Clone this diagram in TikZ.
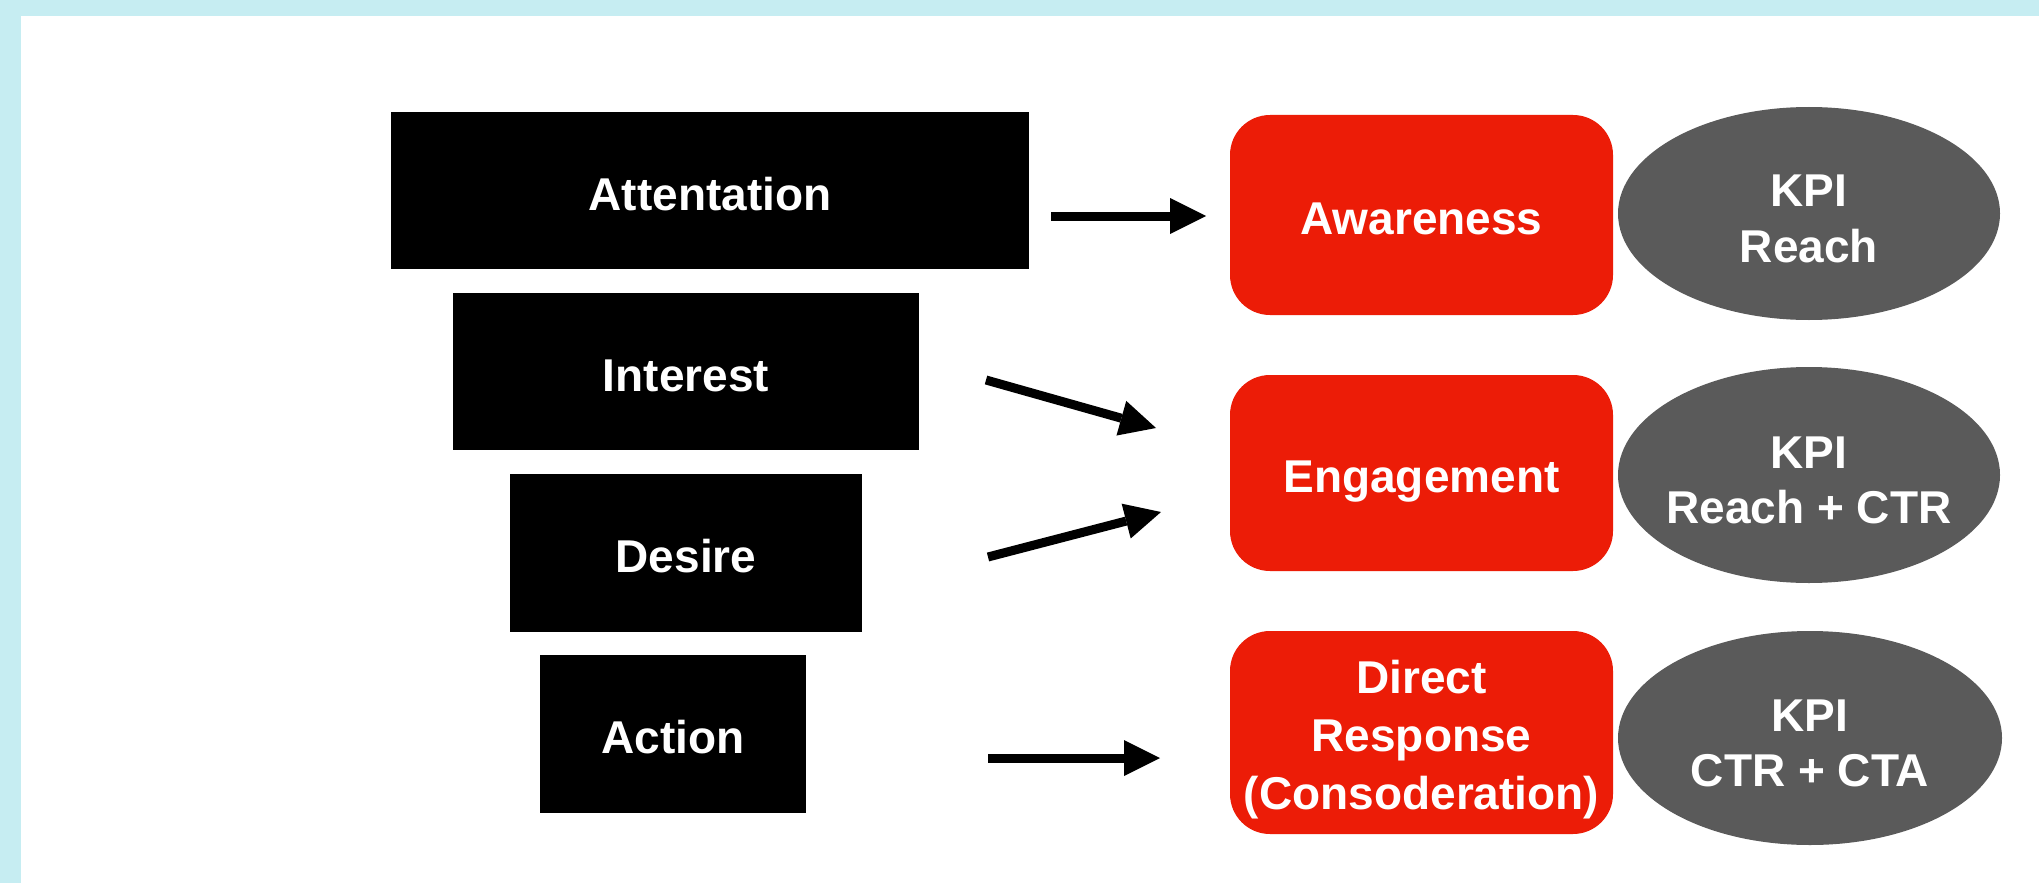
\documentclass[tikz,border=0pt]{standalone}
\usepackage{fontspec}
\setmainfont{Liberation Sans}
\usetikzlibrary{shapes.geometric,arrows.meta}
\definecolor{framecyan}{HTML}{C6EDF2}
\definecolor{stagered}{HTML}{EC1C07}
\definecolor{kpigray}{HTML}{5A5A5A}
% centred stack of lines, lowered by #1 without changing the box it reports
\newcommand{\linestack}[2]{\raisebox{#1}[\height][\depth]{\begin{tabular}{@{}c@{}}#2\end{tabular}}}
% narrow box for the ellipses, so each ellipse keeps its set size
\newcommand{\kpilines}[1]{\makebox[60pt]{\linestack{-5pt}{#1}}}

\begin{document}
\begin{tikzpicture}[x=0.5pt,y=-0.5pt,
  boxfont/.style={font=\bfseries\fontsize{23}{28}\selectfont, text=white},
  oneline/.style={text height=19.5pt, text depth=0pt},
  funnel/.style={rectangle, fill=black, draw=none, inner sep=0pt, boxfont, oneline},
  stage/.style={rectangle, rounded corners=20pt, fill=stagered, draw=none,
    inner sep=0pt, boxfont, font=\bfseries\fontsize{23}{29}\selectfont},
  kpi/.style={ellipse, fill=kpigray, draw=none, inner sep=0pt, boxfont,
    font=\bfseries\fontsize{23}{27.5}\selectfont},
  flow/.style={line width=4.5pt, -{Triangle[length=18pt,width=18pt,line width=0pt]}}
]
% frame
\fill[framecyan] (0,0) rectangle (2039,883);
\fill[white] (21,16) rectangle (2039,883);
\useasboundingbox (0,0) rectangle (2039,883);

% AIDA funnel
\node[funnel, minimum width=319pt, minimum height=78.5pt] (attention) at (710,190.5) {Attentation};
\node[funnel, minimum width=233pt, minimum height=78.5pt] (interest) at (686,371.5) {Interest};
\node[funnel, minimum width=176pt, minimum height=79pt] (desire) at (686,552.5) {Desire};
\node[funnel, minimum width=133pt, minimum height=79pt] (action) at (673,733.5) {Action};

% campaign stages
\node[stage, oneline, minimum width=191.5pt, minimum height=100pt] (awareness) at (1421.5,215) {Awareness};
\node[stage, oneline, minimum width=191.5pt, minimum height=98pt] (engagement) at (1421.5,473) {Engagement};
\node[stage, minimum width=191.5pt, minimum height=101.5pt] (direct) at (1421.5,732.5)
  {\linestack{-3.7pt}{Direct\\Response\\(Consoderation)}};

% KPIs
\node[kpi, minimum width=191pt, minimum height=106.5pt] (kpi1) at (1809,213.5) {\kpilines{KPI\\Reach}};
\node[kpi, minimum width=191pt, minimum height=108pt] (kpi2) at (1809,475) {\kpilines{KPI\\Reach + CTR}};
\node[kpi, minimum width=192pt, minimum height=107pt] (kpi3) at (1810,738) {\kpilines{KPI\\CTR + CTA}};

% arrow ends
\coordinate (a1s) at (1051,216);  \coordinate (a1e) at (1206,216);
\coordinate (a2s) at (986,380);   \coordinate (a2e) at (1156,428);
\coordinate (a3s) at (988,557);   \coordinate (a3e) at (1161,512);
\coordinate (a4s) at (988,758);   \coordinate (a4e) at (1160,758);

\draw[flow] (a1s) -- (a1e);
\draw[flow] (a2s) -- (a2e);
\draw[flow] (a3s) -- (a3e);
\draw[flow] (a4s) -- (a4e);
\end{tikzpicture}
\end{document}
